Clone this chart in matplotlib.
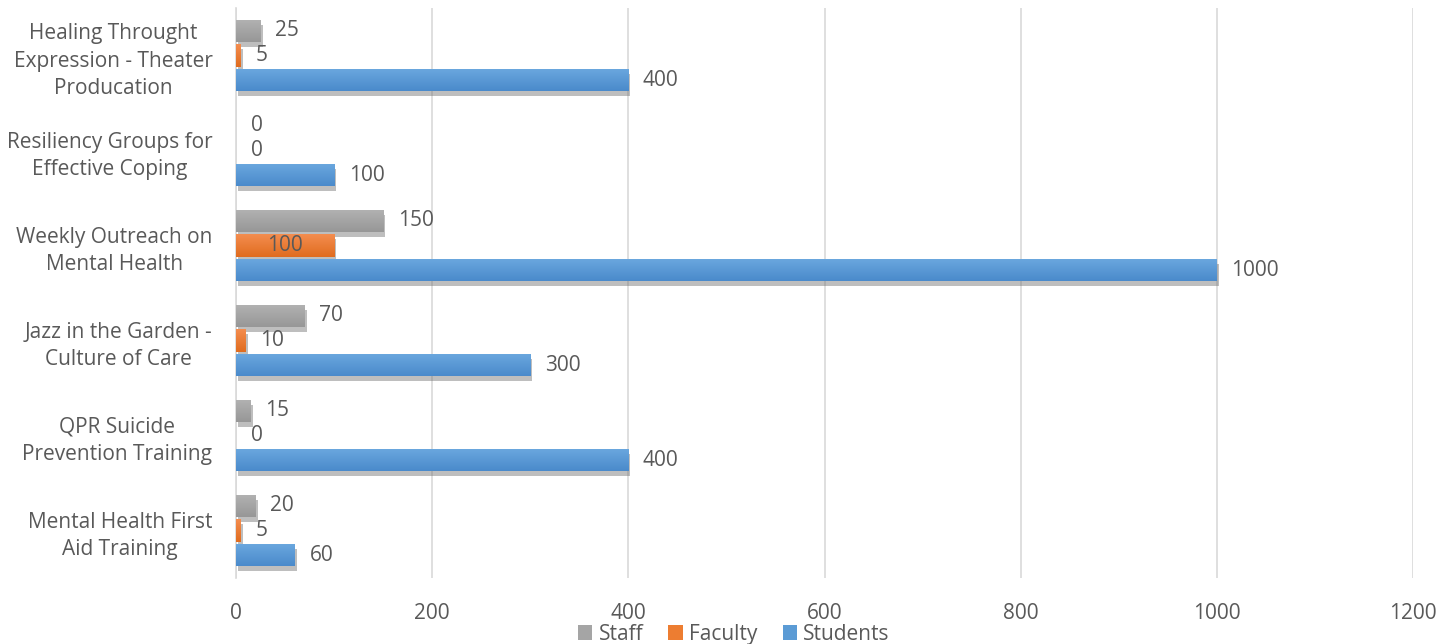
import matplotlib
matplotlib.use("Agg")
import matplotlib.pyplot as plt
import matplotlib.patheffects as pe
from matplotlib.patches import Patch
from matplotlib.colors import LinearSegmentedColormap
import numpy as np

categories = [
    "Healing Throught\nExpression - Theater\nProducation",
    "Resiliency Groups for\nEffective Coping",
    "Weekly Outreach on\nMental Health",
    "Jazz in the Garden -\nCulture of Care",
    "QPR Suicide\nPrevention Training",
    "Mental Health First\nAid Training",
]
series_names = ["Staff", "Faculty", "Students"]
staff = [25, 0, 150, 70, 15, 20]
faculty = [5, 0, 100, 10, 0, 5]
students = [400, 100, 1000, 300, 400, 60]
xticks = [0, 200, 400, 600, 800, 1000, 1200]

colors = ["#a5a5a5", "#ed7d31", "#5b9bd5"]
grad = [("#b2b2b2", "#979797"), ("#f48d4f", "#e06c1f"), ("#6ba8df", "#4a8acb")]
text_color = "#595959"
plt.rcParams['font.family'] = ['Open Sans', 'DejaVu Sans']
FS = 15

fig = plt.figure(figsize=(14.39, 6.44), dpi=100)
ax = fig.add_axes([236/1439, 1-578/644, (1413-236)/1439, (578-8)/644])

n = len(categories)
y = np.arange(n)
h = 0.232
step = 0.258
shadow = [pe.SimplePatchShadow(offset=(1.5, -3.5), shadow_rgbFace="#6f6f6f", alpha=0.45), pe.Normal()]
data = [staff, faculty, students]
gimg = np.linspace(0, 1, 64).reshape(-1, 1)
for i, (vals, c, name, g) in enumerate(zip(data, colors, series_names, grad)):
    pos = y + (i - 1) * step
    bars = ax.barh(pos, vals, height=h, color=c, zorder=3)
    cmap = LinearSegmentedColormap.from_list(name, [g[0], g[1]])
    for b, v, p in zip(bars, vals, pos):
        if v > 0:
            b.set_path_effects(shadow)
            im = ax.imshow(gimg, cmap=cmap, aspect="auto", interpolation="bilinear",
                           extent=(0, v, p + h / 2, p - h / 2), zorder=3.5)
            im.set_clip_path(b)
        if name == "Faculty" and v == 100:
            ax.text(v / 2, p, str(v), ha="center", va="center", fontsize=FS, color=text_color, zorder=4)
        else:
            ax.annotate(str(v), (v, p), xytext=(10.5, 0), textcoords="offset points",
                        ha="left", va="center", fontsize=FS, color=text_color, zorder=4)

ax.set_ylim(n - 0.5, -0.5)
ax.set_xlim(0, 1200)
ax.set_xticks(xticks)
ax.set_yticks(y)
ax.set_yticklabels(categories, multialignment="center", fontsize=FS, color=text_color,
                   linespacing=1.4)
ax.tick_params(axis="x", length=0, pad=18, labelsize=FS, labelcolor=text_color)
ax.tick_params(axis="y", length=0, pad=17)
ax.grid(axis="x", color="#d9d9d9", linewidth=1.2, zorder=0)
for s in ["top", "right", "bottom"]:
    ax.spines[s].set_visible(False)
ax.spines["left"].set_color("#d9d9d9")
ax.spines["left"].set_linewidth(1.2)

handles = [Patch(facecolor=c, label=nm) for c, nm in zip(colors, series_names)]
fig.legend(handles=handles, loc="lower center", bbox_to_anchor=(0.51, -0.03), ncol=3, frameon=False,
           fontsize=FS, labelcolor=text_color, handlelength=0.7, handleheight=0.7,
           handletextpad=0.3, columnspacing=1.2)

fig.savefig("out.png", dpi=100)
